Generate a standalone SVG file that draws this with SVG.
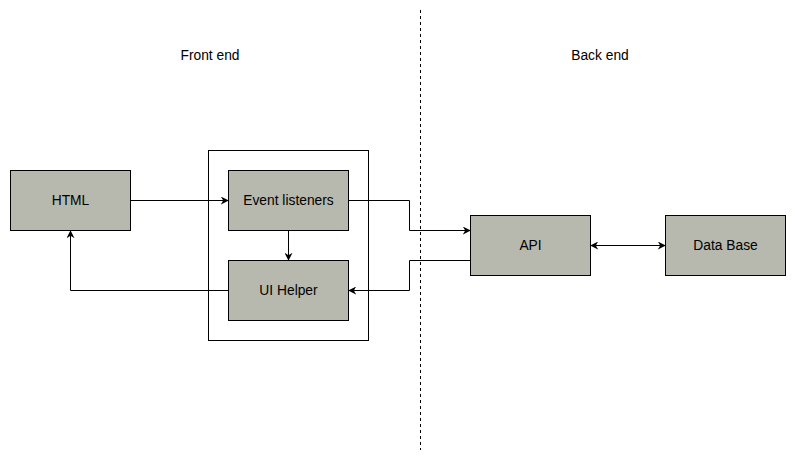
<svg xmlns="http://www.w3.org/2000/svg" width="795" height="462" viewBox="0 0 795 462">
<defs>
<style>
.box{fill:#b7b9ae;stroke:#000;stroke-width:1}
.t{font-family:"Liberation Sans",Arial,sans-serif;font-size:13.8px;fill:#000;text-anchor:middle;dominant-baseline:central}
.c{fill:none;stroke:#000;stroke-width:1}
</style>
<marker id="ae" viewBox="0 0 10 10" refX="9" refY="5" markerWidth="8" markerHeight="8" markerUnits="userSpaceOnUse" orient="auto">
<path d="M0,0 L10,5 L0,10 L3,5 Z" fill="#000"/>
</marker>
<marker id="as" viewBox="0 0 10 10" refX="1" refY="5" markerWidth="8" markerHeight="8" markerUnits="userSpaceOnUse" orient="auto">
<path d="M10,0 L0,5 L10,10 L7,5 Z" fill="#000"/>
</marker>
</defs>
<rect width="795" height="462" fill="#fff"/>
<line x1="420.5" y1="10" x2="420.5" y2="450" stroke="#000" stroke-width="1" stroke-dasharray="3 3"/>
<text class="t" x="210" y="55">Front end</text>
<text class="t" x="600" y="55">Back end</text>
<g id="container"><rect x="208.5" y="150.5" width="160" height="190" fill="none" stroke="#000"/></g>
<g id="html"><rect class="box" x="10.5" y="170.5" width="120" height="60"/><text class="t" x="70.5" y="200.5">HTML</text></g>
<g id="events"><rect class="box" x="228.5" y="170.5" width="120" height="60"/><text class="t" x="288.5" y="200.5">Event listeners</text></g>
<g id="uihelper"><rect class="box" x="228.5" y="260.5" width="120" height="60"/><text class="t" x="288.5" y="290.5">UI Helper</text></g>
<g id="api"><rect class="box" x="470.5" y="215.5" width="120" height="60"/><text class="t" x="530.5" y="245.5">API</text></g>
<g id="db"><rect class="box" x="665.5" y="215.5" width="120" height="60"/><text class="t" x="725.5" y="245.5">Data Base</text></g>
<g id="connectors">
<path class="c" d="M130.5,200.5 H228" marker-end="url(#ae)"/>
<path class="c" d="M288.5,230.5 V260" marker-end="url(#ae)"/>
<path class="c" d="M228.5,290.5 H70.5 V231" marker-end="url(#ae)"/>
<path class="c" d="M348.5,200.5 H409.5 V230.5 H470" marker-end="url(#ae)"/>
<path class="c" d="M470.5,260.5 H409.5 V290.5 H349" marker-end="url(#ae)"/>
<path class="c" d="M591,245.5 H665" marker-start="url(#as)" marker-end="url(#ae)"/>
</g>
</svg>
